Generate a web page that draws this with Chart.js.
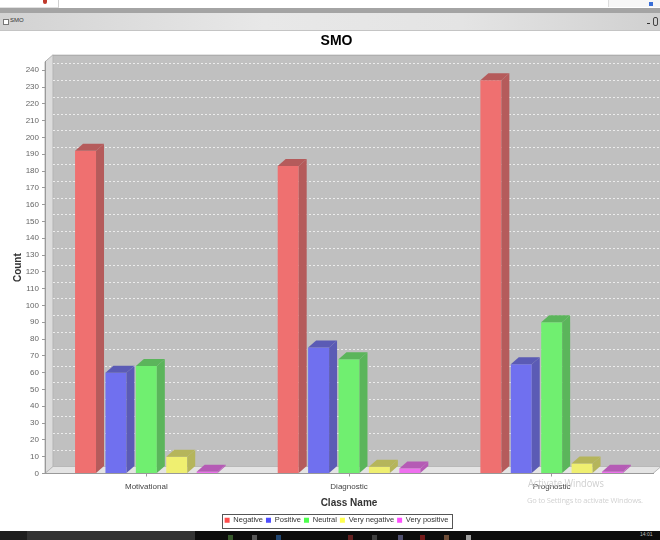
<!DOCTYPE html>
<html>
<head>
<meta charset="utf-8">
<title>SMO</title>
<script src="https://cdn.jsdelivr.net/npm/chart.js@4.4.1/dist/chart.umd.min.js"></script>
<style>
  html, body { margin: 0; padding: 0; background: #fff; }
  #frame { position: relative; width: 660px; height: 540px; overflow: hidden; font-family: "Liberation Sans", Arial, sans-serif; }
  #smoChart { position: absolute; left: 0; top: 0; }
  .strip { position: absolute; left: 0; top: 0; width: 660px; height: 8px; background: #fff; }
  .tab-left { position: absolute; left: 0; top: 0; width: 58px; height: 7px; border-right: 1px solid #d0d0d0; border-bottom: 1px solid #e0e0e0; }
  .tab-left i { position: absolute; left: 43px; top: 0; width: 4px; height: 4px; background: #c0392b; border-radius: 0 0 2px 2px; }
  .tab-right { position: absolute; left: 608px; top: 0; width: 52px; height: 7px; background: #f6f6f6; border-left: 1px solid #ddd; }
  .tab-right i { position: absolute; left: 40px; top: 2px; width: 4px; height: 4px; background: #3a6fd8; }
  .band { position: absolute; left: 0; top: 8px; width: 660px; height: 5px; background: #a4a4a4; }
  .titlebar { position: absolute; left: 0; top: 13px; width: 660px; height: 17px; background: linear-gradient(to right, #d2d2d2, #e8e8e8 40%, #e4e4e4 70%, #d0d0d0); border-bottom: 1px solid #c4c4c4; }
  .titlebar .box { position: absolute; left: 3px; top: 6px; width: 4px; height: 4px; border: 1px solid #777; background: #fff; }
  .titlebar .name { position: absolute; left: 10px; top: 4px; font-size: 6px; color: #333; }
  .titlebar .min { position: absolute; left: 647px; top: 10px; width: 3px; height: 1px; background: #333; }
  .titlebar .restore { position: absolute; left: 653px; top: 4px; width: 3px; height: 7px; border: 1px solid #444; border-radius: 2px; }
  .taskbar { position: absolute; left: 0; top: 531px; width: 660px; height: 9px; background: #0c0c0c; }
  .taskbar .start { position: absolute; left: 0; top: 0; width: 27px; height: 9px; background: #1e1e1e; }
  .taskbar .search { position: absolute; left: 27px; top: 0; width: 168px; height: 9px; background: #333; }
  .taskbar i { position: absolute; top: 4px; width: 5px; height: 5px; opacity: 0.7; }
  .taskbar .clock { position: absolute; left: 640px; top: 0; font-size: 5px; color: #bbb; }
  .wm1 { position: absolute; left: 528px; top: 476px; font-size: 10.5px; color: #cfcfcf; font-family: "Open Sans", sans-serif; transform: scaleX(0.88); transform-origin: left top; white-space: nowrap; }
  .wm2 { position: absolute; left: 527px; top: 495px; font-size: 7.5px; color: #d2d2d2; font-family: "Open Sans", sans-serif; letter-spacing: -0.2px; white-space: nowrap; }
</style>
</head>
<body>
<div id="frame">
  <canvas id="smoChart" width="660" height="540"></canvas>
  <div class="strip"><div class="tab-left"><i></i></div><div class="tab-right"><i></i></div></div>
  <div class="band"></div>
  <div class="titlebar"><div class="box"></div><div class="name">SMO</div><div class="min"></div><div class="restore"></div></div>
  <div class="wm1">Activate Windows</div>
  <div class="wm2">Go to Settings to activate Windows.</div>
  <div class="taskbar">
    <div class="start"></div><div class="search"></div>
    <i style="left:228px;background:#4a7a3a"></i>
    <i style="left:252px;background:#777"></i>
    <i style="left:276px;background:#2b5f9e"></i>
    <i style="left:348px;background:#8a2a2a"></i>
    <i style="left:372px;background:#555"></i>
    <i style="left:398px;background:#6d6d9a"></i>
    <i style="left:420px;background:#a02020"></i>
    <i style="left:444px;background:#9a6a4a"></i>
    <i style="left:466px;background:#ddd"></i>
    <span class="clock">14:01</span>
  </div>
</div>

<script>
// counts per class
const categories = ['Motivational', 'Diagnostic', 'Prognostic'];
const seriesNames = ['Negative', 'Positive', 'Neutral', 'Very negative', 'Very positive'];
const negative = [192, 183, 234];
const positive = [60, 75, 65];
const neutral = [64, 68, 90];
const veryNegative = [10, 4, 6];
const veryPositive = [1, 3, 1];

// value axis: labelled 0..240, range runs a little past the last label
const yMin = 0;
const yMax = 245;
const yStep = 10;
const yLastTick = 240;

const frontColors = ['#ef7070', '#7070ef', '#70ef70', '#efef70', '#ef70ef'];
const sideColors = ['#b55b5b', '#5b5bb5', '#5bb55b', '#b5b55b', '#b55bb5'];
const legendColors = ['#ff4d4d', '#4d4dff', '#4dff4d', '#ffff4d', '#ff4dff'];

// depth of the 3d effect
const DX = 8;
const DY = 7;

const FONT = '"Liberation Sans", Arial, sans-serif';
Chart.defaults.font.family = FONT;

function poly(ctx, pts, fill, stroke) {
    ctx.beginPath();
    ctx.moveTo(pts[0][0], pts[0][1]);
    for (let i = 1; i < pts.length; i++) ctx.lineTo(pts[i][0], pts[i][1]);
    ctx.closePath();
    if (fill) { ctx.fillStyle = fill; ctx.fill(); }
    if (stroke) { ctx.strokeStyle = stroke; ctx.lineWidth = 1; ctx.stroke(); }
}

// back wall, side wall, floor and the dashed grid on the back wall
const wallsPlugin = {
    id: 'walls3d',
    beforeDraw(chart) {
        const { ctx, chartArea: a, scales: { y } } = chart;
        ctx.save();
        ctx.fillStyle = '#fff';
        ctx.fillRect(0, 0, chart.width, chart.height);

        ctx.fillStyle = '#c0c0c0';
        ctx.fillRect(a.left + DX, a.top - DY, a.right - a.left, a.bottom - a.top);

        poly(ctx, [[a.left, a.top], [a.left + DX, a.top - DY], [a.left + DX, a.bottom - DY], [a.left, a.bottom]], '#dcdcdc', '#b4b4b4');
        poly(ctx, [[a.left, a.bottom], [a.left + DX, a.bottom - DY], [a.right + DX, a.bottom - DY], [a.right, a.bottom]], '#e4e4e4', '#b8b8b8');

        ctx.strokeStyle = '#aaa';
        ctx.beginPath();
        ctx.moveTo(a.left + DX, a.top - DY + 0.5);
        ctx.lineTo(a.right + DX, a.top - DY + 0.5);
        ctx.stroke();

        ctx.strokeStyle = 'rgba(255,255,255,0.7)';
        ctx.setLineDash([2, 2]);
        y.ticks.forEach(t => {
            if (t.value === 0) return;
            const py = Math.round(y.getPixelForValue(t.value) - DY) + 0.5;
            ctx.beginPath();
            ctx.moveTo(a.left + DX, py);
            ctx.lineTo(a.right + DX, py);
            ctx.stroke();
        });
        ctx.restore();
    }
};

// top and right faces of every bar
const barDepthPlugin = {
    id: 'barDepth',
    afterDatasetsDraw(chart) {
        const ctx = chart.ctx;
        ctx.save();
        chart.data.datasets.forEach((ds, i) => {
            const meta = chart.getDatasetMeta(i);
            if (meta.hidden) return;
            meta.data.forEach(bar => {
                const { x, y, base, width } = bar.getProps(['x', 'y', 'base', 'width'], true);
                const l = x - width / 2;
                const r = x + width / 2;
                poly(ctx, [[l, y], [l + DX, y - DY], [r + DX, y - DY], [r, y]], sideColors[i]);
                poly(ctx, [[r, y], [r + DX, y - DY], [r + DX, base - DY], [r, base]], sideColors[i]);
            });
        });
        ctx.restore();
    }
};

// thin frame round the legend items
const legendFramePlugin = {
    id: 'legendFrame',
    afterDraw(chart) {
        const boxes = chart.legend && chart.legend.legendHitBoxes;
        if (!boxes || !boxes.length) return;
        const left = Math.min(...boxes.map(b => b.left)) - 3;
        const right = Math.max(...boxes.map(b => b.left + b.width)) + 3;
        const top = Math.min(...boxes.map(b => b.top)) - 3;
        const bottom = Math.max(...boxes.map(b => b.top + b.height)) + 3;
        const ctx = chart.ctx;
        ctx.save();
        ctx.strokeStyle = '#555';
        ctx.lineWidth = 1;
        ctx.strokeRect(Math.round(left) + 0.5, Math.round(top) + 0.5, Math.round(right - left), Math.round(bottom - top));
        ctx.restore();
    }
};

const seriesData = [negative, positive, neutral, veryNegative, veryPositive];

const ctx = document.getElementById('smoChart').getContext('2d');
const smoChart = new Chart(ctx, {
    type: 'bar',
    data: {
        labels: categories,
        datasets: seriesNames.map((name, i) => ({
            label: name,
            data: seriesData[i],
            backgroundColor: frontColors[i],
            borderWidth: 0
        }))
    },
    options: {
        responsive: false,
        animation: false,
        devicePixelRatio: 1,
        layout: { padding: { top: 31, left: 20, right: 7, bottom: 6 } },
        datasets: { bar: { categoryPercentage: 0.75, barPercentage: 0.69 } },
        plugins: {
            title: {
                display: true,
                text: 'SMO',
                color: '#000',
                font: { size: 14, weight: 'bold' },
                padding: { top: 2, bottom: 12 }
            },
            legend: {
                position: 'bottom',
                labels: {
                    boxWidth: 5,
                    boxHeight: 5,
                    padding: 3,
                    color: '#333',
                    font: { size: 7.5 },
                    generateLabels(chart) {
                        const items = Chart.defaults.plugins.legend.labels.generateLabels(chart);
                        items.forEach((it, i) => {
                            it.fillStyle = legendColors[i];
                            it.strokeStyle = legendColors[i];
                            it.lineWidth = 0;
                        });
                        return items;
                    }
                }
            },
            tooltip: { enabled: false }
        },
        scales: {
            x: {
                grid: { display: true, drawOnChartArea: false, offset: false, tickLength: 3, color: '#999' },
                border: { color: '#999' },
                ticks: { color: '#444', font: { size: 8 }, padding: 5, maxRotation: 0 },
                title: { display: true, text: 'Class Name', color: '#333', font: { size: 10, weight: 'bold' }, padding: { top: 0, bottom: 4 } },
                afterFit(scale) { scale.height = 40; }
            },
            y: {
                min: yMin,
                max: yMax,
                ticks: { stepSize: yStep, color: '#666', font: { size: 8 }, padding: 3 },
                afterBuildTicks(scale) {
                    const ticks = [];
                    for (let v = yMin; v <= yLastTick; v += yStep) ticks.push({ value: v });
                    scale.ticks = ticks;
                },
                grid: { display: true, drawOnChartArea: false, tickLength: 3, color: '#999' },
                border: { color: '#999' },
                title: { display: true, text: 'Count', color: '#333', font: { size: 10, weight: 'bold' }, padding: { top: -8, bottom: 0 } },
                afterFit(scale) { scale.width = 25; }
            }
        }
    },
    plugins: [wallsPlugin, barDepthPlugin, legendFramePlugin]
});
</script>
</body>
</html>
